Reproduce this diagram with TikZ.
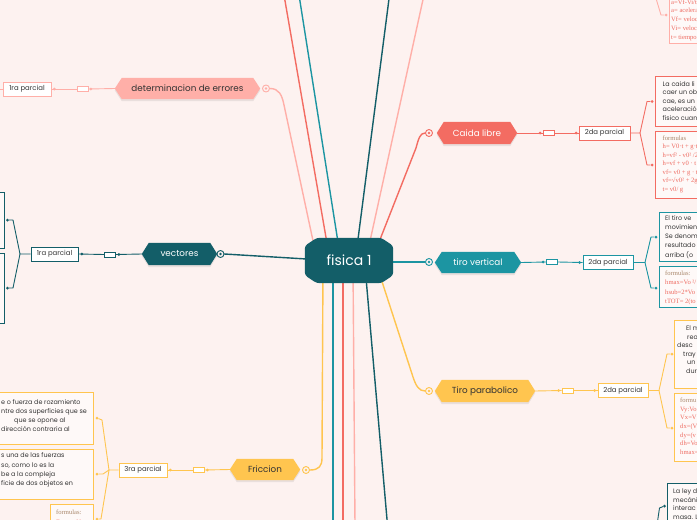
\documentclass[tikz,border=0pt]{standalone}
\usepackage{fontspec}
\setmainfont{Poppins}
\newfontfamily\frmfont{Liberation Serif}
\usetikzlibrary{backgrounds}
\definecolor{bg}{HTML}{FDF2F0}
\definecolor{dteal}{HTML}{135E68}
\definecolor{teal2}{HTML}{1C95A2}
\definecolor{red2}{HTML}{F36C62}
\definecolor{pink2}{HTML}{FFAFA8}
\definecolor{yel}{HTML}{FFC54F}
\definecolor{txt}{HTML}{333333}
\definecolor{fbrown}{HTML}{A8866A}
\definecolor{fred}{HTML}{EE6A60}
\pgfdeclarelayer{back0}
\pgfsetlayers{back0,background,main}
\newcommand\hexfill[2]{%
  \fill[black, opacity=0.08] ([yshift=-2pt]#1.west) -- ([xshift=7pt,yshift=-2pt]#1.north west) -- ([xshift=-7pt,yshift=-2pt]#1.north east) -- ([yshift=-2pt]#1.east) -- ([xshift=-7pt,yshift=-2pt]#1.south east) -- ([xshift=7pt,yshift=-2pt]#1.south west) -- cycle;
  \fill[#2] (#1.west) -- ([xshift=7pt]#1.north west) -- ([xshift=-7pt]#1.north east) -- (#1.east) -- ([xshift=-7pt]#1.south east) -- ([xshift=7pt]#1.south west) -- cycle;}
\begin{document}
\begin{tikzpicture}[x=1pt,y=-1pt,
  conn/.style={line width=1.4pt, line cap=round, line join=round},
  sub/.style={line width=0.9pt, line join=round},
  cnode/.style={inner sep=0pt, minimum width=88pt, minimum height=45pt, text=white, font=\fontsize{14}{16}\selectfont},
  hexn/.style={inner sep=0pt, minimum height=21pt, font=\fontsize{8.8}{10}\selectfont},
  endc/.style={circle, draw=#1, fill=bg, line width=0.9pt, minimum size=7pt, inner sep=0pt, path picture={\fill[#1] (path picture bounding box.center) circle (1.3pt);}},
  mini/.style={draw=#1, fill=white, line width=0.8pt, inner sep=0pt, minimum width=11pt, minimum height=5pt},
  pbox/.style={draw=#1, fill=white, line width=0.9pt, inner sep=0pt, minimum width=48pt, minimum height=14pt, text=txt, font=\fontsize{6.9}{7}\selectfont},
  dotn/.style={circle, fill=#1, inner sep=0pt, minimum size=3pt},
  tbox/.style={draw=#1, fill=white!55!bg, line width=0.9pt, inner sep=0pt},
  tl/.style={anchor=base west, inner sep=0pt, text=txt, font=\fontsize{6.4}{7}\selectfont},
  fl/.style={anchor=base west, inner sep=0pt, text=fred, font=\frmfont\fontsize{6.6}{7}\selectfont},
  fh/.style={anchor=base west, inner sep=0pt, text=fbrown, font=\frmfont\fontsize{6.6}{7}\selectfont}
]
\begin{pgfonlayer}{back0}
\fill[bg] (0,0) rectangle (697,520);
\end{pgfonlayer}
\useasboundingbox (0,0) rectangle (697,520);

% free ends
\coordinate (rtop) at (284,-5);
\coordinate (ttop) at (299,-5);
\coordinate (dtop) at (389.5,-5);
\coordinate (ptop) at (424,-5);
\coordinate (tbot) at (333,525);
\coordinate (rbot) at (343,525);
\coordinate (pbot) at (355,525);
\coordinate (dbot) at (387.5,525);

% main nodes
\node[cnode] (c) at (349,260.5) {fisica 1};
\node[hexn, text=txt, minimum width=145pt] (err) at (187.5,88.5) {determinacion de errores};
\node[hexn, text=white, minimum width=75pt, minimum height=22pt] (vec) at (179.5,254) {vectores};
\node[hexn, text=txt, minimum width=70pt] (fric) at (265,469.5) {Friccion};
\node[hexn, text=white, minimum width=80pt, minimum height=22pt] (cai) at (477,133) {Caida libre};
\node[hexn, text=white, minimum width=86pt] (tv) at (478,262.5) {tiro vertical};
\node[hexn, text=txt, minimum width=100pt, minimum height=22pt] (tp) at (485,391) {Tiro parabolico};

\node[endc=pink2] (errc) at (266,88.5) {};
\node[endc=dteal] (vecc) at (220.5,254) {};
\node[endc=yel] (fricc) at (306,470) {};
\node[endc=red2] (caic) at (429,133) {};
\node[endc=teal2] (tvc) at (429,262) {};
\node[endc=yel] (tpc) at (429,391) {};

\begin{pgfonlayer}{background}
\draw[conn,pink2] ([xshift=-33pt,yshift=-17pt]c.north) -- (284,105) .. controls (282,95) and (279,88.5) .. (errc.east);
\draw[conn,red2] ([xshift=-20pt,yshift=-17pt]c.north) -- (rtop);
\draw[conn,teal2] ([xshift=-9pt,yshift=-17pt]c.north) -- (ttop);
\draw[conn,dteal] ([xshift=7pt,yshift=-17pt]c.north) -- (dtop);
\draw[conn,pink2] ([xshift=18pt,yshift=-17pt]c.north) -- (ptop);
\draw[conn,red2] ([xshift=25pt,yshift=-17pt]c.north) -- (416,148) .. controls (418.5,139) and (420,133) .. (caic.west);
\draw[conn,dteal] ([xshift=10pt,yshift=1pt]c.west) -- (vecc.east);
\draw[conn,teal2] ([xshift=-10pt,yshift=-1.5pt]c.east) -- (tvc.west);
\draw[conn,yel] ([xshift=-26pt,yshift=17pt]c.south) -- (322,458) .. controls (322,466) and (319,470) .. (fricc.east);
\draw[conn,teal2] ([xshift=-16pt,yshift=17pt]c.south) -- (tbot);
\draw[conn,red2] ([xshift=-6pt,yshift=17pt]c.south) -- (rbot);
\draw[conn,pink2] ([xshift=4pt,yshift=17pt]c.south) -- (pbot);
\draw[conn,dteal] ([xshift=16pt,yshift=17pt]c.south) -- (dbot);
\draw[conn,yel] ([xshift=28pt,yshift=17pt]c.south) -- (413,377) .. controls (416,386) and (419,391) .. (tpc.west);
\fill[dteal, rounded corners=3pt] ([yshift=-8pt]c.north west) -- ([xshift=12pt]c.north west) -- ([xshift=-12pt]c.north east) -- ([yshift=-8pt]c.north east) -- ([yshift=8pt]c.south east) -- ([xshift=-12pt]c.south east) -- ([xshift=12pt]c.south west) -- ([yshift=8pt]c.south west) -- cycle;
\hexfill{err}{pink2}
\hexfill{vec}{dteal}
\hexfill{fric}{yel}
\hexfill{cai}{red2}
\hexfill{tv}{teal2}
\hexfill{tp}{yel}
\end{pgfonlayer}

% ---------- determinacion de errores
\node[mini=pink2] (errm) at (82.5,89) {};
\node[pbox=pink2] (e1) at (27,89) {1ra parcial};
\coordinate (e1off) at (-5,89);
\draw[sub,pink2] (err.west) -- (errm.east);
\draw[sub,pink2] (errm.west) -- (e1.east);
\draw[sub,pink2] (e1.west) -- (e1off);
\node[dotn=pink2] (ed1) at ([xshift=2.5pt]errm.east) {};
\node[dotn=pink2] (ed2) at ([xshift=3pt]e1.east) {};

% ---------- vectores
\node[mini=dteal] (vecm) at (110,254.5) {};
\node[pbox=dteal, minimum width=47pt] (v1) at (54.5,254) {1ra parcial};
\node[tbox=dteal, minimum width=14pt, minimum height=56pt] (vb1) at (-3,220) {};
\node[tbox=dteal, minimum width=14pt, minimum height=70pt] (vb2) at (-3,288) {};
\node[dotn=dteal] (vd1) at (7.5,220) {};
\node[dotn=dteal] (vd2) at (7.5,288) {};
\coordinate (vf) at (20,254);
\draw[sub,dteal] (vec.west) -- (vecm.east);
\draw[sub,dteal] (vecm.west) -- (v1.east);
\draw[sub,dteal] (v1.west) -- (vf) -- (13,220) -- (vd1);
\draw[sub,dteal] (vf) -- (13,288) -- (vd2);
\node[dotn=dteal] (vd3) at ([xshift=3pt]vecm.east) {};
\node[dotn=dteal] (vd4) at ([xshift=3.5pt]v1.east) {};

% ---------- Friccion
\node[mini=yel] (fricm) at (198.5,470) {};
\node[pbox=yel] (f1) at (143,470) {3ra parcial};
\node[tbox=yel, minimum width=103pt, minimum height=52pt] (fb1) at (41.5,418) {};
\node[tbox=yel, minimum width=103pt, minimum height=50pt] (fb2) at (41.5,474) {};
\node[tbox=yel, minimum width=43pt, minimum height=34pt] (fb3) at (71.5,521) {};
\node[dotn=yel] (fd1) at (97,418) {};
\node[dotn=yel] (fd2) at (97,474) {};
\node[dotn=yel] (fd3) at (97,519) {};
\coordinate (ff) at (109,470);
\draw[sub,yel] (fric.west) -- (fricm.east);
\draw[sub,yel] (fricm.west) -- (f1.east);
\draw[sub,yel] (f1.west) -- (ff) -- (102,420) -- (fd1);
\draw[sub,yel] (ff) -- (103,474) -- (fd2);
\draw[sub,yel] (ff) -- (101,519) -- (fd3);
\node[dotn=yel] (fd4) at ([xshift=3pt]fricm.east) {};
\node[dotn=yel] (fd5) at ([xshift=3pt]f1.east) {};
\node[tl] (fa1) at (1,404) {e o fuerza de rozamiento};
\node[tl] (fa2) at (1,413.2) {ntre dos superficies que se};
\node[tl] (fa3) at (14,422.4) {que se opone al};
\node[tl] (fa4) at (1,431.6) {dirección contraria al};
\foreach \s [count=\i] in {s una de las fuerzas, {so, como lo es la}, be a la compleja, ficie de dos objetos en}
  \node[tl] (fbt\i) at (1,448.5+9.3*\i) {\s};
\node[fh] (ff0) at (56,514.5) {formulas:};
\node[fl] (ff1) at (56,524) {Fr= μ · N};

% ---------- Caida libre
\node[mini=red2] (caim) at (548.5,133) {};
\node[pbox=red2, minimum width=51pt] (c1) at (604.5,133) {2da parcial};
\node[tbox=red2, minimum width=55pt, minimum height=50pt] (cb1) at (682.5,101) {};
\node[tbox=red2, minimum width=55pt, minimum height=67pt] (cb2) at (682.5,164.5) {};
\node[dotn=red2] (cd1) at (652,101.5) {};
\node[dotn=red2] (cd2) at (652,165) {};
\coordinate (cf) at (640,133);
\draw[sub,red2] (cai.east) -- (caim.west);
\draw[sub,red2] (caim.east) -- (c1.west);
\draw[sub,red2] (c1.east) -- (cf) -- (647,101.5) -- (cd1);
\draw[sub,red2] (cf) -- (647,165) -- (cd2);
\node[dotn=red2] (cd3) at ([xshift=-2.5pt]caim.west) {};
\node[dotn=red2] (cd4) at ([xshift=-2.5pt]c1.west) {};
\foreach \s [count=\i] in {La caida li, caer un ob, {cae, es un}, aceleració, fisico cuan}
  \node[tl] (cat\i) at (662.5,77.5+8.5*\i) {\s};
\node[fh] (caf0) at (662.5,140) {formulas};
\foreach \s [count=\i] in {h= V0·t + g·t, h=vf² - v0² /2, h=vf + v0 · t, vf= v0 + g · t, vf=√v0² + 2g, t= v0/ g}
  \node[fl] (caf\i) at (662.5,140+8.5*\i) {\s};

% ---------- tiro vertical
\node[mini=teal2] (tvm) at (552,262) {};
\node[pbox=teal2, minimum width=50pt] (t1) at (608,262.5) {2da parcial};
\node[tbox=teal2, minimum width=51pt, minimum height=49pt] (tb1) at (684.5,236.5) {};
\node[tbox=teal2, minimum width=51pt, minimum height=41pt] (tb2) at (684.5,286.5) {};
\node[dotn=teal2] (td1) at (656,237) {};
\node[dotn=teal2] (td2) at (656,288) {};
\coordinate (tf) at (645,262.5);
\draw[sub,teal2] (tv.east) -- (tvm.west);
\draw[sub,teal2] (tvm.east) -- (t1.west);
\draw[sub,teal2] (t1.east) -- (tf) -- (651,237) -- (td1);
\draw[sub,teal2] (tf) -- (651,288) -- (td2);
\node[dotn=teal2] (td3) at ([xshift=-3pt]tvm.west) {};
\node[dotn=teal2] (td4) at ([xshift=-3pt]t1.west) {};
\foreach \s [count=\i] in {El tiro ve, movimien, Se denom, resultado, arriba (o}
  \node[tl] (tvt\i) at (665,211.1+9.2*\i) {\s};
\node[fh] (tvf0) at (665,275) {formulas:};
\foreach \s [count=\i] in {hmax=Vo ²/, hsub=2*Vo, tTOT= 2(to}
  \node[fl] (tvf\i) at (665,275+9.5*\i) {\s};

% ---------- Tiro parabolico
\node[mini=yel] (tpm) at (567.5,390.5) {};
\node[pbox=yel, minimum width=50pt] (p1) at (623,390.5) {2da parcial};
\node[tbox=yel, minimum width=36pt, minimum height=68pt] (pb1) at (692,354) {};
\node[tbox=yel, minimum width=36pt, minimum height=68pt] (pb2) at (692,427) {};
\node[dotn=yel] (pd1) at (672,354) {};
\node[dotn=yel] (pd2) at (672,428) {};
\coordinate (pf) at (659,390.5);
\draw[sub,yel] (tp.east) -- (tpm.west);
\draw[sub,yel] (tpm.east) -- (p1.west);
\draw[sub,yel] (p1.east) -- (pf) -- (667,354) -- (pd1);
\draw[sub,yel] (pf) -- (667,428) -- (pd2);
\node[dotn=yel] (pd3) at ([xshift=-3pt]tpm.west) {};
\node[dotn=yel] (pd4) at ([xshift=-3pt]p1.west) {};
\node[tl] (pt1) at (686,330.3) {El m};
\node[tl] (pt2) at (687,339.3) {rea};
\node[tl] (pt3) at (677,347.3) {desc};
\node[tl] (pt4) at (683,356.3) {tray};
\node[tl] (pt5) at (687,364.3) {un};
\node[tl] (pt6) at (686,373.3) {dura};
\node[fh] (ptf0) at (680,402.3) {formu};
\foreach \s [count=\i] in {Vy:Vo, Vx=V, dx=(V, dy=(v, dh=Vo, hmax=}
  \node[fl] (ptf\i) at (680,402.3+8.7*\i) {\s};

% ---------- top right formula box
\node[tbox=pink2, minimum width=41pt, minimum height=53pt] (trb) at (689.5,16.5) {};
\node[dotn=pink2] (trd) at (666,15) {};
\coordinate (troff) at (655,-5);
\draw[sub,pink2] (troff) -- (661,15) -- (trd);
\foreach \s [count=\i] in {a=Vf-Vi/t, a= aceleración, Vf= velocidad final, Vi= velocidad inicial, t= tiempo}
  \node[fl] (trt\i) at (671,-4.75+8.75*\i) {\s};

% ---------- bottom right box
\node[tbox=dteal, minimum width=43pt, minimum height=57pt] (lb) at (688.5,511.5) {};
\node[dotn=dteal] (ld) at (664.5,506) {};
\coordinate (loff) at (657,525);
\draw[sub,dteal] (loff) -- (659.5,508) -- (ld);
\foreach \s [count=\i] in {La ley d, mecáni, interac, masa. L}
  \node[tl] (lt\i) at (673,485+8.5*\i) {\s};
\end{tikzpicture}
\end{document}
